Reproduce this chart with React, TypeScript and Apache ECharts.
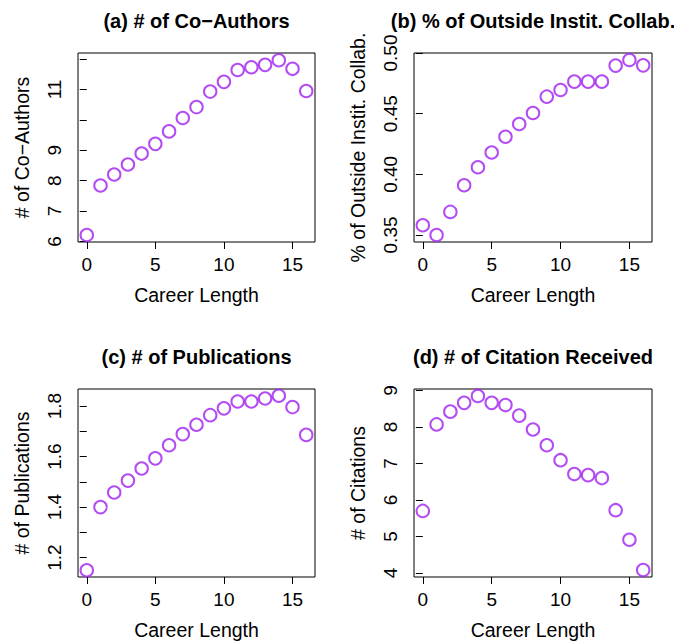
import React, { useEffect, useRef } from "react";
import * as echarts from "echarts";

// Shared x values (career length)
const careerLength = [0, 1, 2, 3, 4, 5, 6, 7, 8, 9, 10, 11, 12, 13, 14, 15, 16];

// (a) # of Co-Authors
const coAuthors = [6.21, 7.84, 8.2, 8.53, 8.89, 9.21, 9.62, 10.06, 10.42, 10.93, 11.25, 11.64, 11.73, 11.81, 11.96, 11.68, 10.95];
// (b) % of Outside Instit. Collab.
const outsideCollab = [0.358, 0.35, 0.369, 0.391, 0.4058, 0.418, 0.431, 0.4415, 0.4505, 0.464, 0.4695, 0.4764, 0.4764, 0.4764, 0.4896, 0.4942, 0.4898];
// (c) # of Publications
const publications = [1.15, 1.4, 1.458, 1.505, 1.553, 1.593, 1.645, 1.689, 1.726, 1.764, 1.791, 1.818, 1.818, 1.83, 1.841, 1.796, 1.686];
// (d) # of Citation Received
const citations = [5.7, 8.07, 8.42, 8.66, 8.85, 8.66, 8.6, 8.31, 7.93, 7.5, 7.09, 6.71, 6.68, 6.6, 5.72, 4.91, 4.08];

// Tick values / labels
const xTicks = [0, 5, 10, 15];
const aTicks = [6, 7, 8, 9, 10, 11, 12];
const aLabels = [6, 7, 8, 9, 11];
const bTicks = [0.35, 0.4, 0.45, 0.5];
const bLabels = [0.35, 0.4, 0.45, 0.5];
const cTicks = [1.2, 1.3, 1.4, 1.5, 1.6, 1.7, 1.8];
const cLabels = [1.2, 1.4, 1.6, 1.8];
const dTicks = [4, 5, 6, 7, 8, 9];
const dLabels = [4, 5, 6, 7, 8, 9];

const titles = [
  "(a) # of Co\u2212Authors",
  "(b) % of Outside Instit. Collab.",
  "(c) # of Publications",
  "(d) # of Citation Received",
];
const yNames = [
  "# of Co\u2212Authors",
  "% of Outside Instit. Collab.",
  "# of Publications",
  "# of Citations",
];
const xName = "Career Length";

const FONT = "'Liberation Sans', Arial, Helvetica, sans-serif";
const PURPLE = "#A020F0";

export default function App() {
  const ref = useRef<HTMLDivElement>(null);
  useEffect(() => {
    if (!ref.current) return;
    const chart = echarts.init(ref.current, undefined, { renderer: "svg" });

    const grids = [
      { left: 78, top: 53, width: 237, height: 189 },
      { left: 414, top: 53, width: 238, height: 189 },
      { left: 78, top: 389, width: 237, height: 189 },
      { left: 414, top: 389, width: 238, height: 189 },
    ];
    const yRanges = [
      [5.98, 12.2],
      [0.3442, 0.5],
      [1.1234, 1.8676],
      [3.89, 9.04],
    ];
    const yTickSets = [aTicks, bTicks, cTicks, dTicks];
    const yLabelSets = [aLabels, bLabels, cLabels, dLabels];
    const yFmt = [
      (v: number) => String(Math.round(v)),
      (v: number) => v.toFixed(2),
      (v: number) => v.toFixed(1),
      (v: number) => String(Math.round(v)),
    ];
    const seriesData = [coAuthors, outsideCollab, publications, citations];

    const option: any = {
      animation: false,
      backgroundColor: "#ffffff",
      grid: grids.map((g) => ({
        ...g,
        show: true,
        borderColor: "#000",
        borderWidth: 1,
        backgroundColor: "transparent",
        containLabel: false,
      })),
      xAxis: grids.map((_, i) => ({
        type: "value",
        gridIndex: i,
        min: -0.64,
        max: 16.64,
        axisLine: { show: false },
        splitLine: { show: false },
        axisTick: {
          show: true,
          inside: false,
          length: 7,
          customValues: xTicks,
          lineStyle: { color: "#000", width: 1 },
        },
        axisLabel: {
          show: true,
          customValues: xTicks,
          margin: 13,
          fontSize: 19,
          fontFamily: FONT,
          color: "#000",
        },
        name: xName,
        nameLocation: "middle",
        nameGap: 43,
        nameTextStyle: { fontSize: 19.5, fontFamily: FONT, color: "#000" },
      })),
      yAxis: grids.map((_, i) => ({
        type: "value",
        gridIndex: i,
        min: yRanges[i][0],
        max: yRanges[i][1],
        axisLine: { show: false },
        splitLine: { show: false },
        axisTick: {
          show: true,
          inside: false,
          length: 7,
          customValues: yTickSets[i],
          lineStyle: { color: "#000", width: 1 },
        },
        axisLabel: {
          show: true,
          customValues: yLabelSets[i],
          rotate: 90,
          margin: 14,
          fontSize: 19,
          fontFamily: FONT,
          color: "#000",
          formatter: yFmt[i],
        },
        name: yNames[i],
        nameLocation: "middle",
        nameGap: 46,
        nameTextStyle: { fontSize: 19.5, fontFamily: FONT, color: "#000" },
      })),
      series: seriesData.map((vals, i) => ({
        type: "scatter",
        xAxisIndex: i,
        yAxisIndex: i,
        symbol: "emptyCircle",
        symbolSize: 12.5,
        itemStyle: { color: PURPLE, borderColor: PURPLE, borderWidth: 1 },
        data: careerLength.map((x, k) => [x, vals[k]]),
      })),
      graphic: titles.map((t, i) => ({
        type: "text",
        x: grids[i].left + grids[i].width / 2,
        y: grids[i].top - 32,
        style: {
          text: t,
          align: "center",
          verticalAlign: "middle",
          fontSize: 20,
          fontWeight: "bold",
          fontFamily: FONT,
          fill: "#000",
        },
      })),
    };
    chart.setOption(option);
    return () => chart.dispose();
  }, []);
  return (
    <div
      ref={ref}
      style={{ position: "absolute", left: 0, top: 0, width: 674, height: 641 }}
    />
  );
}
